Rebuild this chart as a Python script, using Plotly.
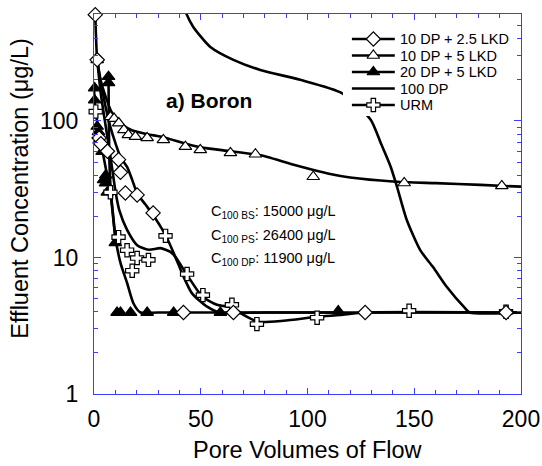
import plotly.graph_objects as go

# ---------------- data ----------------
# 10 DP + 2.5 LKD (open diamonds)
dp25_x = [0.6, 1.5, 2.4, 3.2, 6.3, 11.5, 12.4, 14.7, 20.2, 27.7, 41.9, 65.3, 127, 193]
dp25_y = [600, 280, 75, 68, 60, 52, 42, 29.7, 28.7, 21.2, 3.95, 3.95, 3.95, 3.95]
dp25_fit_x = [0.6, 1.5, 3.2, 5.4, 7.7, 10, 12.4, 15.5, 17.9, 20.2, 24, 27.7, 30.5, 33.5, 38.1, 42, 45.9, 53, 59, 80, 200]
dp25_fit_y = [600, 280, 195, 127, 90, 69, 54.5, 46, 37, 29.5, 24.5, 20.5, 17.5, 14.6, 10.1, 7.2, 5.46, 4.36, 3.95, 3.95, 3.95]

# 10 DP + 5 LKD (open triangles)
dp5_x = [1.5, 7.7, 9.4, 11.6, 14, 16.1, 19.4, 24.9, 32.5, 42.8, 49.8, 63.9, 75.6, 102.7, 145.3, 191]
dp5_y = [280, 107, 104, 96.5, 86, 79, 76.8, 75, 72.6, 64.8, 61.3, 58.3, 57, 39, 35.1, 33.4]
dp5_fit_x = [1.5, 3, 5.5, 8, 10.5, 14, 18, 25, 32.5, 43, 50, 64, 78, 96.6, 110, 120, 140, 160, 181, 200]
dp5_fit_y = [280, 200, 150, 118, 104, 92, 85, 80, 76, 68, 64, 60, 56, 46.3, 41, 38.5, 36, 35, 34, 33]

# 20 DP + 5 LKD (filled triangles)
dp20_x = [0.3, 0.3, 1.5, 2.1, 2.4, 3.8, 4.5, 5.4, 5.5, 6.2, 6.8, 6.8, 10, 10.8, 12.4, 17.1, 24.9, 37.3, 59.2, 114.4]
dp20_y = [174, 142, 91, 83, 72, 59.5, 37, 35, 40, 30, 211, 190, 12.8, 3.95, 3.95, 3.95, 3.95, 3.95, 3.95, 4.05]
dp20_fit_a_x = [0, 0.7, 3, 5.4, 7.7, 10, 12.5, 15.5, 18.5, 21.8, 30, 114.4]
dp20_fit_a_y = [170, 118, 72.6, 46, 30, 14, 9, 6.5, 4.6, 3.95, 3.95, 3.95]
dp20_fit_b_x = [6.8, 6.9, 7.2, 7.9, 8.7, 10]
dp20_fit_b_y = [211, 120, 52, 30, 22.3, 14]

# 100 DP (line only)
dp100_x = [41, 43.3, 46.5, 54.5, 65.3, 77.9, 96.6, 116.1, 129.6, 134.3, 139, 141.9, 146.5, 152.8, 158.8, 165.2, 173.7, 176, 200]
dp100_y = [800, 608, 488, 348, 280, 236, 200, 160, 102, 69, 46, 33, 18.8, 11.3, 8.5, 6.1, 4.27, 3.95, 3.95]

# URM (open crosses)
urm_x = [0.8, 7.7, 11.5, 15.5, 17.9, 20.2, 25.5, 33.5, 43.6, 51, 64.6, 76.3, 104.5, 147.6, 193]
urm_y = [117, 30, 14.1, 11.3, 8, 9.9, 9.6, 14.4, 7.56, 5.3, 4.5, 3.25, 3.62, 4.07, 4.0]
urm_fit_x = [1.5, 3.2, 5.5, 7.9, 10.2, 11.8, 15.5, 20.2, 25.6, 31.1, 35.8, 38.1, 43.6, 50.6, 57.6, 64.7, 70, 77, 88.7, 104.6, 115.3, 127, 200]
urm_fit_y = [280, 158, 91, 52, 29.5, 22.3, 15.9, 12.3, 11.4, 11.7, 11.0, 10.1, 7.45, 5.2, 4.5, 4.3, 3.8, 3.38, 3.44, 3.68, 3.79, 3.95, 3.95]

names = ["10 DP + 2.5 LKD", "10 DP + 5 LKD", "20 DP + 5 LKD", "100 DP", "URM"]
x_ticks = [0, 50, 100, 150, 200]
y_ticks = [1, 10, 100]

# ---------------- figure ----------------
FONT = "Liberation Sans, Arial, sans-serif"
AX = "#3c3cff"
LW = 2.6
MS = 11
L, R, T, B = 93.5, 521.5, 14, 394   # plot-area pixel box

fig = go.Figure()

def fit(x, y):
    fig.add_trace(go.Scatter(x=x, y=y, mode="lines", showlegend=False,
                             line=dict(color="black", width=LW, shape="spline", smoothing=0.6),
                             hoverinfo="skip"))

def marks(x, y, symbol, fill):
    fig.add_trace(go.Scatter(x=x, y=y, mode="markers", showlegend=False, cliponaxis=False,
                             marker=dict(symbol=symbol, size=MS, color=fill,
                                         line=dict(color="black", width=1.2))))

fit(dp25_fit_x, dp25_fit_y)
fit(dp5_fit_x, dp5_fit_y)
fit(dp20_fit_a_x, dp20_fit_a_y)
fit(dp20_fit_b_x, dp20_fit_b_y)
fit(dp100_x, dp100_y)
fit(urm_fit_x, urm_fit_y)

marks(dp5_x, dp5_y, "triangle-up", "white")
marks(dp20_x, dp20_y, "triangle-up", "black")
marks(urm_x, urm_y, "cross", "white")
marks(dp25_x, dp25_y, "diamond", "white")

# ---- key drawn on an overlay pixel-space axis pair ----
key_syms = [("diamond", "white"), ("triangle-up", "white"), ("triangle-up", "black"), (None, None), ("cross", "white")]
key_x0, key_x1, key_y0, key_dy = 352, 395, 39, 16.5
bx0, bx1, by0, by1 = 343, 520, 27, 116
fig.add_trace(go.Scatter(x=[bx0, bx1, bx1, bx0, bx0], y=[by0, by0, by1, by1, by0], xaxis="x2", yaxis="y2",
                         mode="lines", fill="toself", fillcolor="white", line=dict(width=0, color="white"),
                         showlegend=False, hoverinfo="skip"))
for i, (nm, (sym, col)) in enumerate(zip(names, key_syms)):
    ky = key_y0 + i * key_dy
    fig.add_trace(go.Scatter(x=[key_x0, key_x1], y=[ky, ky], xaxis="x2", yaxis="y2", mode="lines",
                             line=dict(color="black", width=LW), showlegend=False, hoverinfo="skip"))
    if sym:
        fig.add_trace(go.Scatter(x=[(key_x0 + key_x1) / 2], y=[ky], xaxis="x2", yaxis="y2", mode="markers",
                                 marker=dict(symbol=sym, size=MS, color=col, line=dict(color="black", width=1.2)),
                                 showlegend=False, hoverinfo="skip"))
    fig.add_annotation(x=key_x1 + 3, y=ky, xref="x2", yref="y2", xanchor="left", yanchor="middle",
                       text=nm, showarrow=False, font=dict(size=14.5))

fig.update_layout(
    width=542, height=466,
    margin=dict(l=L, r=542 - R, t=T, b=466 - B, pad=0, autoexpand=False),
    paper_bgcolor="white", plot_bgcolor="white",
    font=dict(family=FONT, size=23, color="black"),
    showlegend=False,
    xaxis=dict(range=[0, 200], tickvals=x_ticks, ticktext=[str(v) for v in x_ticks],
               showgrid=False, zeroline=False, showline=True, linecolor=AX, linewidth=1.3,
               mirror="ticks", ticks="inside", ticklen=6, tickcolor=AX, tickwidth=1,
               minor=dict(dtick=10, ticks="inside", ticklen=3.5, tickcolor=AX, showgrid=False),
               tickfont=dict(size=23), ticklabelstandoff=4, automargin=False),
    yaxis=dict(type="log", range=[0, 2.783], tickvals=y_ticks, ticktext=[str(v) for v in y_ticks],
               showgrid=False, zeroline=False, showline=True, linecolor=AX, linewidth=1.3,
               mirror="ticks", ticks="inside", ticklen=7, tickcolor=AX, tickwidth=1,
               minor=dict(dtick="D1", ticks="inside", ticklen=4, tickcolor=AX, showgrid=False),
               tickfont=dict(size=23), ticklabelstandoff=10, automargin=False),
    xaxis2=dict(overlaying="x", range=[L, R], visible=False, fixedrange=True, automargin=False),
    yaxis2=dict(overlaying="y", range=[B, T], visible=False, fixedrange=True, automargin=False),
)

def px2paper(px, py):
    return (px - L) / (R - L), (B - py) / (B - T)

ax_, ay_ = px2paper(308, 450)
fig.add_annotation(x=ax_, y=ay_, xref="paper", yref="paper", xanchor="center", yanchor="middle",
                   text="Pore Volumes of Flow", showarrow=False, font=dict(size=23.5))
ax_, ay_ = px2paper(19, 188)
fig.add_annotation(x=ax_, y=ay_, xref="paper", yref="paper", xanchor="center", yanchor="middle",
                   text="Effluent Concentration (μg/L)", textangle=-90, showarrow=False,
                   font=dict(size=23.5))
ax_, ay_ = px2paper(208.5, 100)
fig.add_annotation(x=ax_, y=ay_, xref="paper", yref="paper", xanchor="center", yanchor="middle",
                   text="<b>a) Boron</b>", showarrow=False, font=dict(size=21))

rows = [("100 BS", "15000"), ("100 PS", "26400"), ("100 DP", "11900")]
for i, (sub, val) in enumerate(rows):
    ax_, ay_ = px2paper(209, 212 + i * 23.5)
    fig.add_annotation(x=ax_, y=ay_, xref="paper", yref="paper",
                       xanchor="left", yanchor="middle", showarrow=False,
                       text=f"C<sub>{sub}</sub>: {val} μg/L", font=dict(size=14.5))

fig.write_html("out.html")
